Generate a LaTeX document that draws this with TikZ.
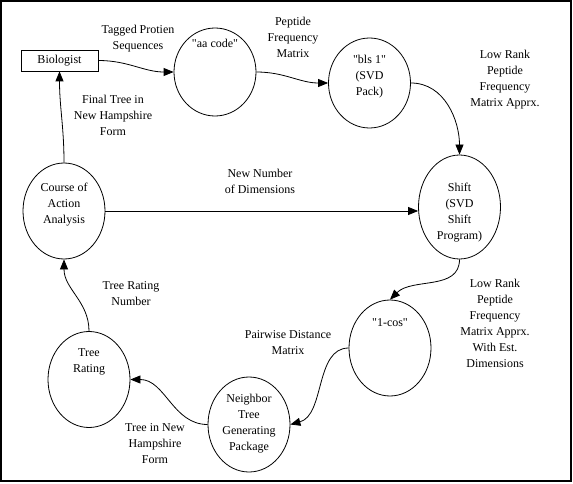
\documentclass[tikz,border=0pt]{standalone}
\usepackage{fontspec}
\setmainfont{Liberation Serif}
\newfontfamily\diagfont{Liberation Serif}
\usetikzlibrary{arrows.meta,positioning,shapes.geometric}

\begin{document}
\begin{tikzpicture}[x=1pt,y=-1pt,>={Triangle[length=10pt,width=8pt]},
  proc/.style={ellipse,draw,line width=0.8pt,minimum width=82pt,minimum height=96pt,inner sep=0pt},
  tx/.style={font=\diagfont\fontsize{12}{16}\selectfont,align=center,inner sep=0pt,anchor=north},
  flow/.style={->,line width=0.8pt}]
\useasboundingbox (0,0) rectangle (573,484);
\draw[line width=2pt] (1,1) rectangle (570.5,480.5);
% processes
\node[draw,line width=0.8pt,minimum width=77pt,minimum height=21pt,inner sep=0pt,
  font=\diagfont\fontsize{12}{16}\selectfont] (bio) at (59.5,60.5) {Biologist};
\node[proc,minimum height=88pt] (aa) at (215,72) {};
\node[proc,minimum height=90pt] (bls) at (369.5,83) {};
\node[proc,minimum height=104pt] (shift) at (459.5,207) {};
\node[proc] (coa) at (64,211) {};
\node[proc] (rate) at (89,379.5) {};
\node[proc,minimum height=95pt] (nj) at (249,424.5) {};
\node[proc] (cos) at (390,348) {};
\node[tx] (aat) at (215,39) {\char"22 aa code\char"22};
\node[tx] (blst) at (369.5,54.5) {\char"22 bls 1\char"22\\(SVD\\Pack)};
\node[tx] (shiftt) at (459.5,182.5) {Shift\\(SVD\\Shift\\Program)};
\node[tx] (coat) at (64,182.5) {Course of\\Action\\Analysis};
\node[tx] (ratet) at (89,348.5) {Tree\\Rating};
\node[tx] (njt) at (249,393.5) {Neighbor\\Tree\\Generating\\Package};
\node[tx] (cost) at (390,318.5) {\char"22 1-cos\char"22};
% data labels
\node[tx] (l1) at (138,24.5) {Tagged Protien\\Sequences};
\node[tx] (l2) at (293,16.5) {Peptide\\Frequency\\Matrix};
\node[tx] (l3) at (505,49.5) {Low Rank\\Peptide\\Frequency\\Matrix Apprx.};
\node[tx] (l4) at (113,94.5) {Final Tree in\\New Hampshire\\Form};
\node[tx] (l5) at (260,168.5) {New Number\\of Dimensions};
\node[tx] (l6) at (131,281.5) {Tree Rating\\Number};
\node[tx] (l7) at (288,330.5) {Pairwise Distance\\Matrix};
\node[tx] (l8) at (495,278.5) {Low Rank\\Peptide\\Frequency\\Matrix Apprx.\\With Est.\\Dimensions};
\node[tx] (l9) at (155,423.5) {Tree in New\\Hampshire\\Form};
% flows
\draw[flow] (bio.east) to[out=0,in=180] (aa.west);
\draw[flow] (aa.east) to[out=0,in=180] (bls.west);
\draw[flow] (bls.east) to[out=0,in=90] (shift.north);
\draw[flow] (shift.south) to[out=-90,in=45] (cos.north);
\draw[flow] (cos.west) .. controls (315,348) and (325,415) .. (nj.east);
\draw[flow] (nj.west) to[out=180,in=0] (rate.east);
\draw[flow] (rate.north) to[out=90,in=-90] (coa.south);
\draw[flow] (coa.north) to[out=90,in=-90] (bio.south);
\draw[flow] (coa.east) -- (coa.east -| shift.west);
\end{tikzpicture}
\end{document}
